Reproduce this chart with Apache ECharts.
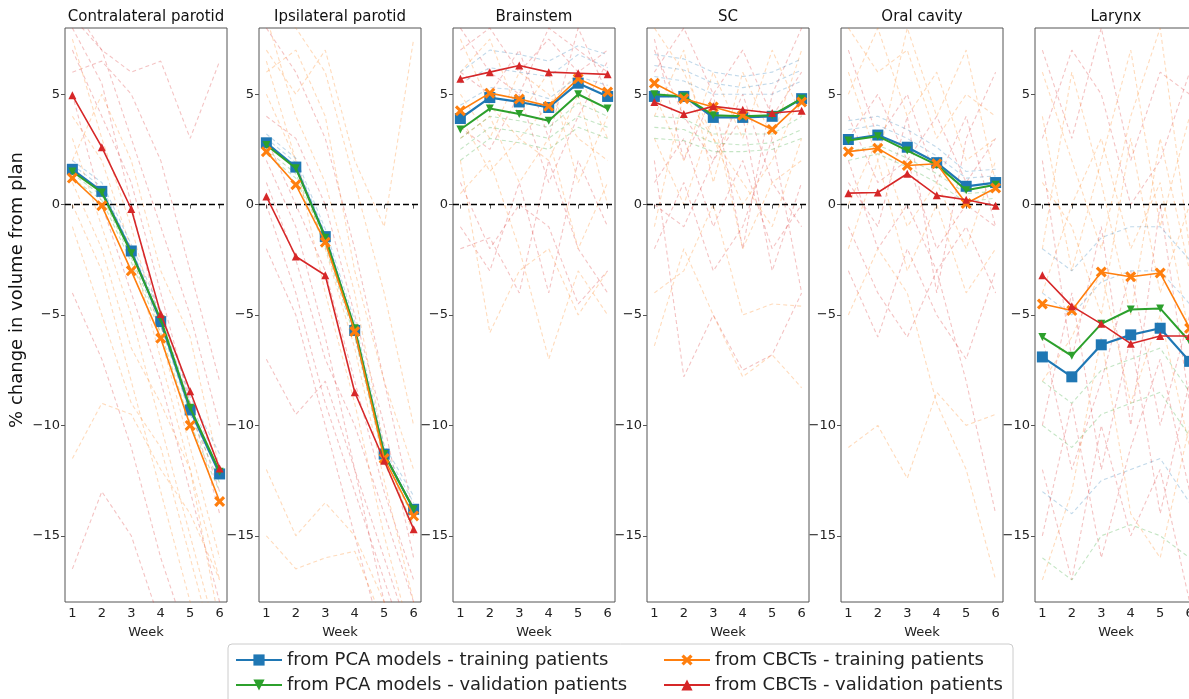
<!DOCTYPE html>
<html>
<head>
<meta charset="utf-8">
<script src="https://cdn.jsdelivr.net/npm/echarts@6/dist/echarts.min.js"></script>
<style>
  html, body { margin: 0; padding: 0; background: #fff; }
  #chart { width: 1189px; height: 699px; }
</style>
</head>
<body>
<div id="chart"></div>
<script>
const weeks = [1, 2, 3, 4, 5, 6];
const organs = ['Contralateral parotid', 'Ipsilateral parotid', 'Brainstem', 'SC', 'Oral cavity', 'Larynx'];
const yTicks = [-15, -10, -5, 0, 5];

// mean curves, one row per organ
const pcaTraining = [
  [1.6, 0.6, -2.1, -5.3, -9.3, -12.2],
  [2.8, 1.7, -1.45, -5.7, -11.3, -13.8],
  [3.9, 4.85, 4.65, 4.4, 5.5, 4.9],
  [4.9, 4.9, 3.95, 3.95, 4.0, 4.8],
  [2.95, 3.15, 2.6, 1.9, 0.83, 1.0],
  [-6.9, -7.8, -6.35, -5.9, -5.6, -7.1]
];
const pcaValidation = [
  [1.5, 0.55, -2.2, -5.2, -9.2, -12.1],
  [2.7, 1.65, -1.5, -5.6, -11.3, -13.8],
  [3.4, 4.35, 4.1, 3.8, 5.0, 4.35],
  [5.0, 4.9, 4.05, 4.0, 4.05, 4.8],
  [2.9, 3.1, 2.45, 1.8, 0.65, 0.9],
  [-6.0, -6.85, -5.4, -4.75, -4.7, -6.2]
];
const cbctTraining = [
  [1.2, -0.05, -3.0, -6.05, -10.0, -13.45],
  [2.4, 0.9, -1.7, -5.75, -11.5, -14.1],
  [4.25, 5.05, 4.78, 4.46, 5.7, 5.1],
  [5.5, 4.8, 4.42, 4.05, 3.4, 4.65],
  [2.4, 2.55, 1.77, 1.85, 0.05, 0.75],
  [-4.5, -4.8, -3.05, -3.27, -3.1, -5.6]
];
const cbctValidation = [
  [4.95, 2.6, -0.2, -4.95, -8.45, -11.95],
  [0.37, -2.35, -3.2, -8.5, -11.6, -14.7],
  [5.7, 6.0, 6.3, 6.0, 5.95, 5.9],
  [4.65, 4.1, 4.45, 4.3, 4.15, 4.25],
  [0.52, 0.55, 1.4, 0.42, 0.22, -0.05],
  [-3.2, -4.6, -5.4, -6.3, -5.95, -5.95]
];

// individual patient curves (faint dashed)
const cbctPatients = [
  [[7, 4, 1, -4, -9, -14], [3, -1, -5, -10, -15, -20], [6, 6.5, 5, 2, -3, -8], [0, -3, -8, -13, -18, -22],
   [8.5, 7, 3, -1, -5, -10], [-11.5, -9, -9.5, -12, -14, -17], [-16.5, -13, -15, -19, -22, -24], [4, 2, -2, -7, -12, -17],
   [9, 7, 6, 6.5, 3, 6.5], [2, 5, 2, -3, -6, -12], [-4, -7, -11, -16, -20, -22], [7.5, 3, -1, -6, -11, -16],
   [5, 0, -4, -8, -13, -18], [-1, -5, -9, -11, -16, -21], [8, 5.5, 0, -5.5, -9, -13], [1, -2, -6.5, -9, -12, -19]],
  [[8, 6, 3, -2, -8, -14], [5, 2, -4, -9, -15, -20], [2, -1, -6, -12, -18, -22], [9, 8, 6, 1, -4, -10],
   [-2, -5, -10, -15, -20, -24], [7, 5, 7, 2, -1, 7.5], [-7, -9.5, -8, -12, -16, -20], [-12, -15, -13.5, -15, -18, -22],
   [3, 0, -3, -8, -13, -17], [6, 7, 4, -3, -8, -12], [0, -4, -9, -13, -17, -21], [-15, -16.5, -16, -15.7, -19, -22],
   [4, 3, 0, -5, -10, -16], [8.5, 4, 1, -4, -11, -15], [1, -2.5, -7, -10, -14, -18], [6.5, 2, -2, -6.5, -12.5, -18]],
  [[7, 8, 6, 7.5, 6, 7], [4, 1.5, 3, 2, 5, 0], [-1, -3, 1, -4, 2, -1], [2, -5.8, -3, -2, -5, -3],
   [6, 5, 7, 3, 8, 5], [0.5, 2, -2, -7, -3, -5], [-2, -1.5, -4, 2, -2, -4], [3, 4, 1, 3, -2, 1],
   [8, 6, 5, 8, 7, 6], [5, 3, 6, 5, 3, 2], [1, -2, 0, -1, -4.5, -3], [6, 7.5, 4, 6, 1, 4],
   [3.5, 2.5, 5, 1, 4, 6.5], [7.5, 4.5, 3, 4.5, 6, 3]],
  [[7, 4, 2, 5, 1, -1], [-6.4, -2, -5, -7.8, -6.8, -8.3], [2, -7.8, -5, -7.5, -6.8, -4], [5, 2, 6, 3, 7, 4],
   [1, 3, -1, 2, -2, 0], [8, 6, 3, 0, 2, 5], [-2, 1, -3, -1, 3, -4], [3, 0, 4, -2, 1, 2],
   [6, 8, 5, 7, 4, 6], [-4, -3, 0, -5, -4.5, -4.6], [0, -1, 2, 4, -3, 1], [4, 7, 1, 6, 3, 7],
   [7.5, 2, 5, -2, 5, 8], [-1, 5, 3, 1, -1, 3]],
  [[7, 3, 5, 1, 4, -1], [-11, -10, -12.4, -8.5, -10, -9.5], [2, -2, 0, -3, -1, -4], [5, 8, 4, 6, 2, 3],
   [-3, -6, -2, -5, -7, -3], [0, 3, -1, 1, -2, 2], [4, 1, 2, -2, 0, -1], [8, 6, 7, 3, 5, 4],
   [-1, -4, -6, -3, -8, -14], [-5, -2, -4, -9, -12, -17], [3, 5, 2, 4, 1, 3], [6, 2, 8, 4, 7, 1],
   [1, -1, 4, -4, 3, 6], [-2, 2, -3, 0, -4, -2]],
  [[7, 3, 8, 2, 6, 5], [-2, 6, 1, -5, 3, -3], [-10, -4, -12, -6, -14, -8], [4, -3, 2, 7, -1, 4],
   [-15, -9, -16, -11, -7, -13], [1, -1, -5, 3, -4, 0], [-6, -12, -8, -3, -10, -5], [6, 2, -2, 4, 8, -2],
   [-12, -17, -10, -15, -12, -18], [-4, 0, 3, -2, 1, -6], [3, 7, 5, 0, 2, 6], [-8, -6, -3, -9, -5, -11],
   [2, -7, -1, -10, 0, -9], [-17, -13, -6, -14, -16, -10]]
];
const pcaPatients = [
  [[2.0, 1.0, -1.8, -4.8, -8.7, -11.3], [1.2, 0.2, -2.6, -5.8, -9.9, -13.0], [1.8, 0.8, -2.0, -5.0, -9.0, -11.8], [1.4, 0.4, -2.4, -5.5, -9.5, -12.6]],
  [[3.2, 2.1, -1.1, -5.3, -10.9, -13.2], [2.3, 1.2, -1.9, -6.0, -11.7, -14.5], [3.0, 1.9, -1.3, -5.5, -11.1, -13.5], [2.5, 1.4, -1.7, -5.8, -11.5, -14.2]],
  [[5.5, 6.2, 6.0, 5.8, 6.8, 6.2], [2.5, 3.5, 3.3, 3.0, 4.0, 3.5], [4.5, 5.3, 5.2, 4.8, 5.8, 5.4], [3.0, 4.0, 3.8, 3.5, 4.6, 4.0], [6.0, 7.0, 6.8, 6.5, 7.2, 6.8], [2.0, 3.0, 2.8, 2.5, 3.5, 3.0]],
  [[6.8, 6.6, 6.0, 5.8, 6.0, 6.6], [3.0, 2.9, 2.4, 2.4, 2.5, 3.0], [5.8, 5.6, 5.0, 5.0, 5.0, 5.6], [4.0, 3.9, 3.2, 3.2, 3.2, 4.0], [6.3, 6.1, 5.5, 5.3, 5.5, 6.1], [3.5, 3.4, 2.8, 2.7, 2.8, 3.4]],
  [[3.8, 4.0, 3.4, 2.6, 1.5, 1.6], [2.0, 2.3, 1.7, 1.0, 0.1, 0.3], [3.4, 3.6, 3.0, 2.2, 1.2, 1.3], [2.4, 2.7, 2.1, 1.4, 0.5, 0.6]],
  [[-2, -3, -1.5, -1, -1, -2.5], [-10, -11, -9.5, -9, -8.5, -10.5], [-4, -5, -3.5, -3, -3, -4.5], [-8, -9, -7.5, -7, -6.5, -8.5], [-13, -14, -12.5, -12, -11.5, -13.5], [-16, -17, -15, -14.5, -15, -16]]
];

const FONT = 'DejaVu Sans';
const C = { blue: '#1f77b4', orange: '#ff7f0e', green: '#2ca02c', red: '#d62728' };
const X_SYMBOL = 'path://M2,0 L5,3 L8,0 L10,2 L7,5 L10,8 L8,10 L5,7 L2,10 L0,8 L3,5 L0,2 Z';
const TRI_DOWN = 'path://M0,0 L10,0 L5,9 Z';

const chart = echarts.init(document.getElementById('chart'), null, { renderer: 'canvas' });

const grids = [], xAxes = [], yAxes = [], series = [], graphics = [];
const fmt = v => (v < 0 ? '\u2212' + Math.abs(v) : String(v));

organs.forEach((name, g) => {
  const left = 65 + 194 * g;
  grids.push({ left: left, top: 28, width: 162, height: 574, show: true, borderColor: '#555', borderWidth: 1, outerBoundsMode: 'none' });
  xAxes.push({
    type: 'value', gridIndex: g, min: 0.75, max: 6.25,
    name: 'Week', nameLocation: 'middle', nameGap: 24,
    nameTextStyle: { fontFamily: FONT, fontSize: 13, color: '#222' },
    axisLine: { show: false }, splitLine: { show: false },
    axisTick: { show: true, customValues: weeks, length: 4, lineStyle: { color: '#555' } },
    axisLabel: { customValues: weeks, fontFamily: FONT, fontSize: 13, color: '#222', margin: 5 }
  });
  yAxes.push({
    type: 'value', gridIndex: g, min: -18, max: 8,
    axisLine: { show: false }, splitLine: { show: false },
    axisTick: { show: true, customValues: yTicks, length: 4, lineStyle: { color: '#555' } },
    axisLabel: { customValues: yTicks, formatter: fmt, fontFamily: FONT, fontSize: 13, color: '#222', margin: 5 }
  });
  graphics.push({
    type: 'text', x: left + 81, y: 17,
    style: { text: name, font: '15px "DejaVu Sans"', fill: '#111', textAlign: 'center', textVerticalAlign: 'middle' }
  });

  const pts = arr => weeks.map((w, i) => [w, arr[i]]);

  cbctPatients[g].forEach((t, k) => {
    series.push({
      type: 'line', xAxisIndex: g, yAxisIndex: g, data: pts(t), symbol: 'none', silent: true, z: 1,
      lineStyle: { color: k % 2 ? C.orange : C.red, opacity: 0.28, width: 1.1, type: [4, 3] }
    });
  });
  pcaPatients[g].forEach((t, k) => {
    series.push({
      type: 'line', xAxisIndex: g, yAxisIndex: g, data: pts(t), symbol: 'none', silent: true, z: 1,
      lineStyle: { color: k % 2 ? C.green : C.blue, opacity: 0.28, width: 1.1, type: [4, 3] }
    });
  });

  series.push({
    type: 'line', xAxisIndex: g, yAxisIndex: g, data: [], silent: true, z: 2,
    markLine: {
      silent: true, symbol: ['none', 'none'], label: { show: false }, animation: false,
      lineStyle: { color: '#000', type: [6, 3], width: 1.4 },
      data: [{ yAxis: 0 }]
    }
  });

  series.push({
    name: 'from PCA models - training patients', type: 'line', xAxisIndex: g, yAxisIndex: g, z: 3,
    data: pts(pcaTraining[g]), symbol: 'rect', symbolSize: 11,
    itemStyle: { color: C.blue }, lineStyle: { color: C.blue, width: 2.2 }
  });
  series.push({
    name: 'from PCA models - validation patients', type: 'line', xAxisIndex: g, yAxisIndex: g, z: 4,
    data: pts(pcaValidation[g]), symbol: TRI_DOWN, symbolSize: 8,
    itemStyle: { color: C.green }, lineStyle: { color: C.green, width: 2 }
  });
  series.push({
    name: 'from CBCTs - training patients', type: 'line', xAxisIndex: g, yAxisIndex: g, z: 5,
    data: pts(cbctTraining[g]), symbol: X_SYMBOL, symbolSize: 11,
    itemStyle: { color: C.orange }, lineStyle: { color: C.orange, width: 1.6 }
  });
  series.push({
    name: 'from CBCTs - validation patients', type: 'line', xAxisIndex: g, yAxisIndex: g, z: 6,
    data: pts(cbctValidation[g]), symbol: 'triangle', symbolSize: 8,
    itemStyle: { color: C.red }, lineStyle: { color: C.red, width: 1.6 }
  });
});

graphics.push({
  type: 'text', x: 17, y: 290, rotation: Math.PI / 2,
  style: { text: '% change in volume from plan', font: '18px "DejaVu Sans"', fill: '#111', textAlign: 'center', textVerticalAlign: 'middle' }
});
graphics.push({
  type: 'rect', z: -1, shape: { x: 228, y: 644, width: 785, height: 62, r: 4 },
  style: { fill: '#fff', stroke: '#ccc', lineWidth: 1 }
});

const legendBase = {
  orient: 'vertical', top: 651, height: 48, padding: 0, itemWidth: 46, itemHeight: 14, itemGap: 7,
  textStyle: { fontFamily: FONT, fontSize: 18, lineHeight: 18, color: '#222' }, selectedMode: false
};

chart.setOption({
  animation: false,
  backgroundColor: '#fff',
  grid: grids,
  xAxis: xAxes,
  yAxis: yAxes,
  legend: [
    Object.assign({ left: 235, data: ['from PCA models - training patients', 'from PCA models - validation patients'] }, legendBase),
    Object.assign({ left: 663, data: ['from CBCTs - training patients', 'from CBCTs - validation patients'] }, legendBase)
  ],
  graphic: graphics,
  series: series
});
</script>
</body>
</html>
